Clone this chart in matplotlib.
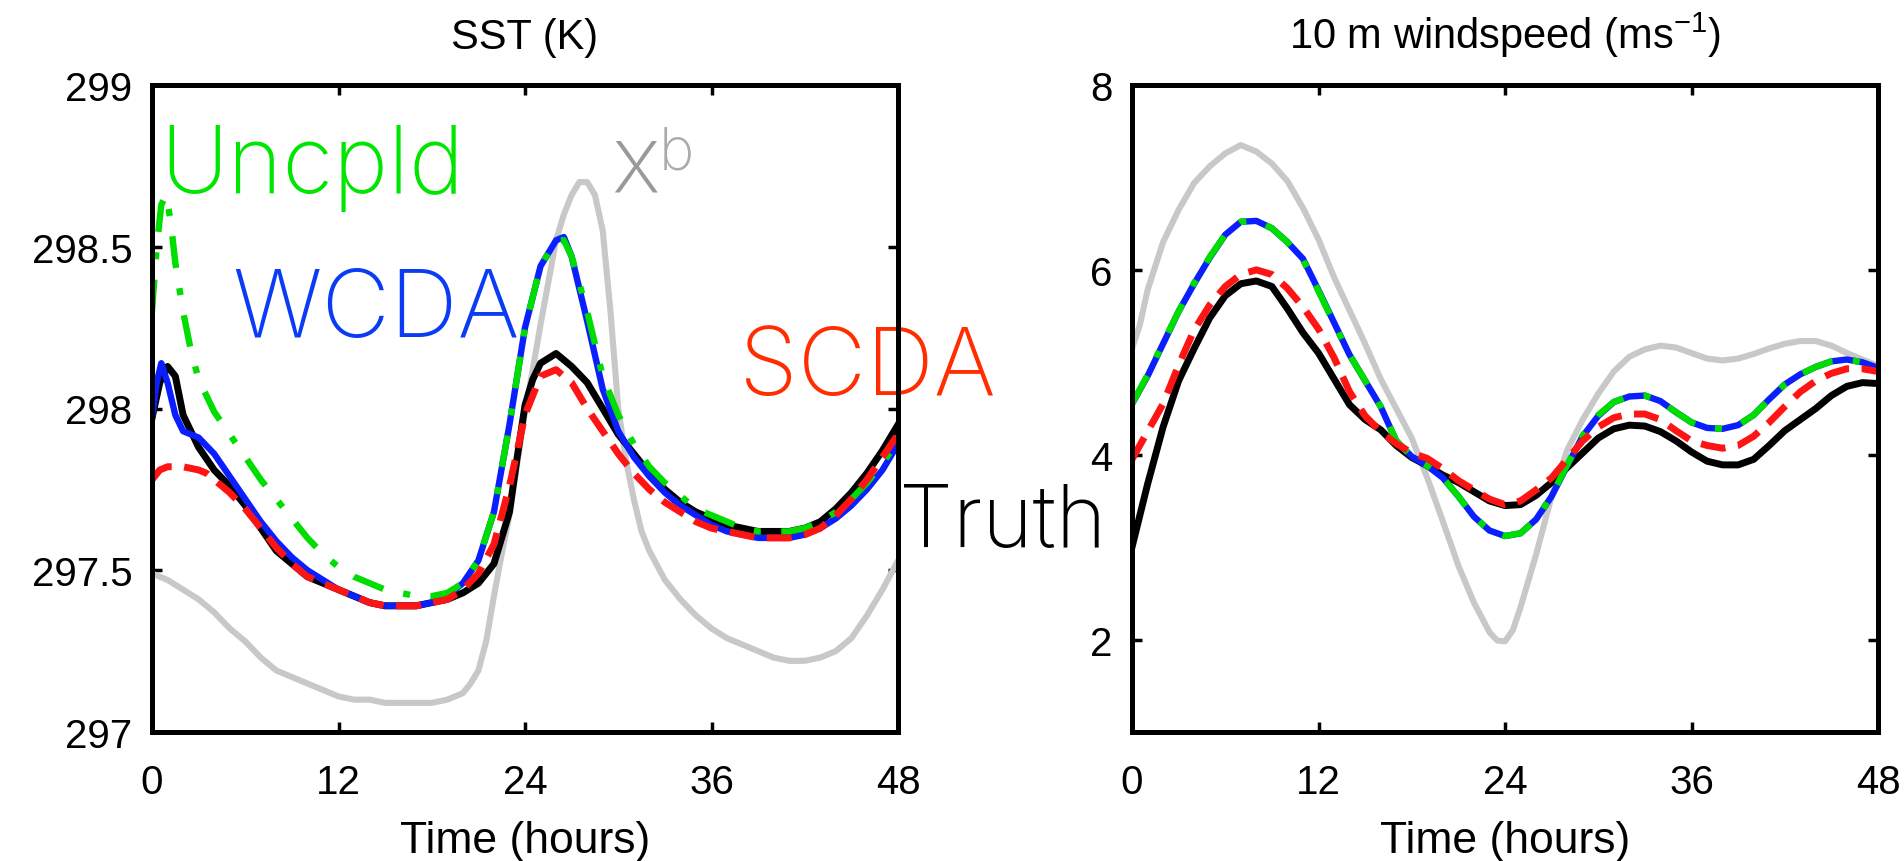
import matplotlib
matplotlib.use("Agg")
import matplotlib.pyplot as plt

plt.rcParams["font.family"] = ["Liberation Sans", "DejaVu Sans"]
plt.rcParams["mathtext.fontset"] = "custom"
plt.rcParams["mathtext.rm"] = "Liberation Sans"

# ---- SST panel (K) ----
sst_t_truth = [0, 0.5, 1, 1.5, 2, 3, 4, 5, 6, 7, 8, 9, 10, 11, 12, 13, 14, 15, 16, 17, 18, 19, 20,
               21, 22, 23, 23.5, 24, 24.5, 25, 26, 27, 28, 29, 30, 31, 32, 33, 34, 35, 36, 37, 38,
               39, 40, 41, 42, 43, 44, 45, 46, 47, 48]
sst_truth = [297.97, 298.08, 298.13, 298.10, 297.98, 297.88, 297.81, 297.76, 297.70, 297.63, 297.56,
             297.52, 297.48, 297.46, 297.44, 297.42, 297.40, 297.39, 297.39, 297.39, 297.40, 297.41,
             297.43, 297.46, 297.52, 297.68, 297.85, 298.01, 298.09, 298.14, 298.17, 298.13, 298.08,
             298.00, 297.92, 297.86, 297.80, 297.75, 297.71, 297.68, 297.66, 297.64, 297.63, 297.62,
             297.62, 297.62, 297.63, 297.65, 297.69, 297.74, 297.80, 297.87, 297.95]

sst_t_wcda = [0, 0.3, 0.6, 1, 1.5, 2, 2.5, 3, 4, 5, 6, 7, 8, 9, 10, 11, 12, 13, 14, 15, 16, 17, 18,
              19, 20, 21, 22, 23, 24, 25, 26, 26.5, 27, 28, 29, 30, 31, 32, 33, 34, 35, 36, 37, 38,
              39, 40, 41, 42, 43, 44, 45, 46, 47, 48]
sst_wcda = [297.97, 298.08, 298.14, 298.08, 297.98, 297.93, 297.92, 297.91, 297.86, 297.79, 297.72,
            297.65, 297.59, 297.54, 297.50, 297.47, 297.44, 297.42, 297.40, 297.39, 297.39, 297.39,
            297.40, 297.42, 297.46, 297.53, 297.68, 297.95, 298.25, 298.44, 298.52, 298.53, 298.47,
            298.27, 298.06, 297.93, 297.85, 297.79, 297.74, 297.70, 297.67, 297.64, 297.62, 297.61,
            297.60, 297.60, 297.60, 297.61, 297.63, 297.66, 297.70, 297.75, 297.81, 297.89]

sst_t_uncpld = [0, 0.3, 0.6, 0.9, 1.2, 1.5, 2, 2.5, 3, 3.5, 4, 5, 6, 7, 8, 9, 10, 11, 12, 13, 14, 15,
                16, 17, 18, 19, 20, 21, 22, 23, 24, 25, 26, 26.5, 27, 28, 29, 30, 31, 32, 33, 34, 35,
                36, 37, 38, 39, 40, 41, 42, 43, 44, 45, 46, 47, 48]
sst_uncpld = [298.30, 298.50, 298.63, 298.66, 298.58, 298.45, 298.30, 298.18, 298.09, 298.04, 297.99,
              297.92, 297.85, 297.78, 297.72, 297.66, 297.60, 297.55, 297.51, 297.48, 297.46, 297.44,
              297.43, 297.42, 297.42, 297.43, 297.46, 297.53, 297.68, 297.95, 298.25, 298.44, 298.52,
              298.52, 298.47, 298.30, 298.10, 297.98, 297.89, 297.82, 297.77, 297.73, 297.69, 297.67,
              297.65, 297.63, 297.62, 297.62, 297.62, 297.63, 297.65, 297.68, 297.72, 297.77, 297.83,
              297.90]

sst_t_scda = [0, 0.5, 1, 2, 3, 3.5, 4, 5, 6, 7, 8, 9, 10, 11, 12, 13, 14, 15, 16, 17, 18, 19, 20, 21,
              22, 23, 24, 25, 26, 27, 28, 29, 30, 31, 32, 33, 34, 35, 36, 37, 38, 39, 40, 41, 42, 43,
              44, 45, 46, 47, 48]
sst_scda = [297.78, 297.81, 297.82, 297.82, 297.81, 297.80, 297.78, 297.74, 297.69, 297.63, 297.57,
            297.52, 297.48, 297.46, 297.44, 297.42, 297.40, 297.39, 297.39, 297.39, 297.40, 297.41,
            297.44, 297.49, 297.58, 297.76, 297.98, 298.10, 298.12, 298.08, 298.00, 297.93, 297.86,
            297.80, 297.75, 297.71, 297.68, 297.65, 297.63, 297.62, 297.61, 297.60, 297.60, 297.60,
            297.61, 297.63, 297.67, 297.72, 297.78, 297.85, 297.92]

sst_t_xb = [0, 1, 2, 3, 4, 5, 6, 7, 8, 9, 10, 11, 12, 13, 14, 15, 16, 17, 18, 19, 20, 20.5, 21, 21.5,
            22, 22.5, 23, 23.5, 24, 24.5, 25, 25.5, 26, 26.5, 27, 27.5, 28, 28.5, 29, 29.5, 30, 30.5,
            31, 31.5, 32, 33, 34, 35, 36, 37, 38, 39, 40, 41, 42, 43, 44, 45, 46, 47, 48]
sst_xb = [297.49, 297.47, 297.44, 297.41, 297.37, 297.32, 297.28, 297.23, 297.19, 297.17, 297.15,
          297.13, 297.11, 297.10, 297.10, 297.09, 297.09, 297.09, 297.09, 297.10, 297.12, 297.15,
          297.19, 297.28, 297.42, 297.55, 297.67, 297.83, 297.99, 298.12, 298.26, 298.39, 298.52,
          298.60, 298.66, 298.70, 298.70, 298.66, 298.55, 298.30, 298.00, 297.84, 297.72, 297.62,
          297.56, 297.47, 297.41, 297.36, 297.32, 297.29, 297.27, 297.25, 297.23, 297.22, 297.22,
          297.23, 297.25, 297.29, 297.36, 297.44, 297.53]

# ---- 10 m windspeed panel (m/s) ----
wind_t = list(range(0, 49))
wind_truth = [3.00, 3.68, 4.30, 4.80, 5.15, 5.48, 5.72, 5.85, 5.88, 5.82, 5.58, 5.32, 5.10, 4.82,
              4.54, 4.38, 4.27, 4.10, 3.97, 3.88, 3.78, 3.70, 3.60, 3.50, 3.45, 3.46, 3.56, 3.70,
              3.86, 4.02, 4.18, 4.28, 4.32, 4.31, 4.25, 4.15, 4.03, 3.93, 3.89, 3.89, 3.95, 4.10,
              4.26, 4.38, 4.50, 4.64, 4.74, 4.78, 4.77]
wind_wcda = [4.55, 4.85, 5.20, 5.55, 5.85, 6.13, 6.38, 6.52, 6.53, 6.45, 6.30, 6.12, 5.78, 5.43,
             5.08, 4.80, 4.52, 4.15, 3.98, 3.88, 3.75, 3.55, 3.33, 3.18, 3.12, 3.15, 3.30, 3.55,
             3.88, 4.20, 4.42, 4.57, 4.63, 4.64, 4.58, 4.46, 4.35, 4.29, 4.28, 4.32, 4.43, 4.60,
             4.76, 4.87, 4.95, 5.01, 5.03, 5.00, 4.94]
wind_uncpld = [4.55, 4.86, 5.21, 5.55, 5.86, 6.14, 6.38, 6.52, 6.53, 6.45, 6.30, 6.11, 5.77, 5.42,
               5.08, 4.80, 4.52, 4.15, 3.98, 3.88, 3.75, 3.55, 3.33, 3.18, 3.12, 3.15, 3.30, 3.56,
               3.89, 4.21, 4.43, 4.57, 4.63, 4.64, 4.58, 4.46, 4.35, 4.29, 4.28, 4.32, 4.43, 4.60,
               4.76, 4.87, 4.95, 5.01, 5.03, 5.00, 4.95]
wind_scda = [3.95, 4.25, 4.55, 4.97, 5.35, 5.62, 5.82, 5.95, 6.00, 5.95, 5.80, 5.60, 5.36, 5.05,
             4.68, 4.42, 4.25, 4.12, 4.02, 3.96, 3.85, 3.72, 3.62, 3.52, 3.46, 3.50, 3.62, 3.75,
             3.95, 4.15, 4.30, 4.40, 4.44, 4.44, 4.38, 4.26, 4.15, 4.10, 4.07, 4.10, 4.20, 4.35,
             4.52, 4.68, 4.80, 4.88, 4.93, 4.93, 4.90]
wind_t_xb = [0, 0.5, 1, 2, 3, 4, 5, 6, 7, 8, 9, 10, 11, 12, 13, 14, 15, 16, 17, 18, 19, 20, 21, 22,
             23, 23.5, 24, 24.5, 25, 26, 27, 28, 29, 30, 31, 32, 33, 34, 35, 36, 37, 38, 39, 40,
             41, 42, 43, 44, 45, 46, 47, 48]
wind_xb = [5.15, 5.40, 5.78, 6.30, 6.65, 6.94, 7.12, 7.26, 7.35, 7.28, 7.15, 6.96, 6.67, 6.33,
           5.92, 5.56, 5.20, 4.82, 4.50, 4.18, 3.75, 3.28, 2.80, 2.40, 2.08, 1.99, 1.98, 2.10,
           2.35, 2.92, 3.55, 4.05, 4.38, 4.66, 4.90, 5.06, 5.14, 5.18, 5.16, 5.10, 5.04, 5.02,
           5.04, 5.09, 5.15, 5.20, 5.23, 5.23, 5.18, 5.10, 5.03, 4.96]

time_ticks = [0, 12, 24, 36, 48]
sst_ticks = [297, 297.5, 298, 298.5, 299]
sst_ticklabels = ["297", "297.5", "298", "298.5", "299"]
wind_ticks = [2, 4, 6, 8]

W, H = 1904, 862
fig = plt.figure(figsize=(W / 100, H / 100), dpi=100)
ax1 = fig.add_axes([152 / W, 1 - 733 / H, 746 / W, 647 / H])
ax2 = fig.add_axes([1132 / W, 1 - 733 / H, 746 / W, 647 / H])

GREEN = "#00dd00"
BLUE = "#0a1eff"
RED = "#ff1414"
GRAY = "#c8c8c8"


def draw_panel(ax, xb, truth, wcda, uncpld, scda):
    ax.plot(xb[0], xb[1], color=GRAY, lw=4.4, solid_capstyle="round")
    ax.plot(truth[0], truth[1], color="black", lw=5.0)
    ax.plot(wcda[0], wcda[1], color=BLUE, lw=4.6)
    ax.plot(uncpld[0], uncpld[1], color=GREEN, lw=4.6, dashes=(5, 3.2, 1.1, 3.2))
    ax.plot(scda[0], scda[1], color=RED, lw=5.0, dashes=(3.6, 1.8))
    ax.set_facecolor("none")
    ax.set_xlim(0, 48)
    ax.set_xticks(time_ticks)
    ax.tick_params(direction="in", top=True, right=True, length=7, width=2.5,
                   labelsize=29, pad=14)
    ax.tick_params(axis="x", pad=22)
    for s in ax.spines.values():
        s.set_linewidth(3.6)
    ax.set_xlabel("Time (hours)", fontsize=32, labelpad=14)


draw_panel(ax1, (sst_t_xb, sst_xb), (sst_t_truth, sst_truth), (sst_t_wcda, sst_wcda),
           (sst_t_uncpld, sst_uncpld), (sst_t_scda, sst_scda))
ax1.set_ylim(297, 299)
ax1.set_yticks(sst_ticks)
ax1.set_yticklabels(sst_ticklabels)
ax1.set_title("SST (K)", fontsize=30, pad=27)

draw_panel(ax2, (wind_t_xb, wind_xb), (wind_t, wind_truth), (wind_t, wind_wcda),
           (wind_t, wind_uncpld), (wind_t, wind_scda))
ax2.set_ylim(1, 8)
ax2.set_yticks(wind_ticks)
ax2.set_title(r"10 m windspeed (ms$^{\mathregular{-1}}$)", fontsize=30, pad=27)

# big series labels placed on the figure
lab = dict(family=["Inter", "Roboto", "DejaVu Sans"], weight="light", zorder=-1)
fig.text(160 / W, 1 - 193 / H, "Uncpld", color="#00e600", fontsize=67, **lab)
fig.text(611 / W, 1 - 192 / H, "x", color="#999999", fontsize=68, **lab)
fig.text(659 / W, 1 - 170 / H, "b", color="#aaaaaa", fontsize=43, **lab)
fig.text(232 / W, 1 - 337 / H, "WCDA", color="#0a3cf5", fontsize=68, **lab)
fig.text(739 / W, 1 - 395 / H, "SCDA", color="#ff2d00", fontsize=68, **lab)
fig.text(899 / W, 1 - 546 / H, "Truth", color="black", fontsize=62, **lab)

fig.savefig("out.png", dpi=100)
